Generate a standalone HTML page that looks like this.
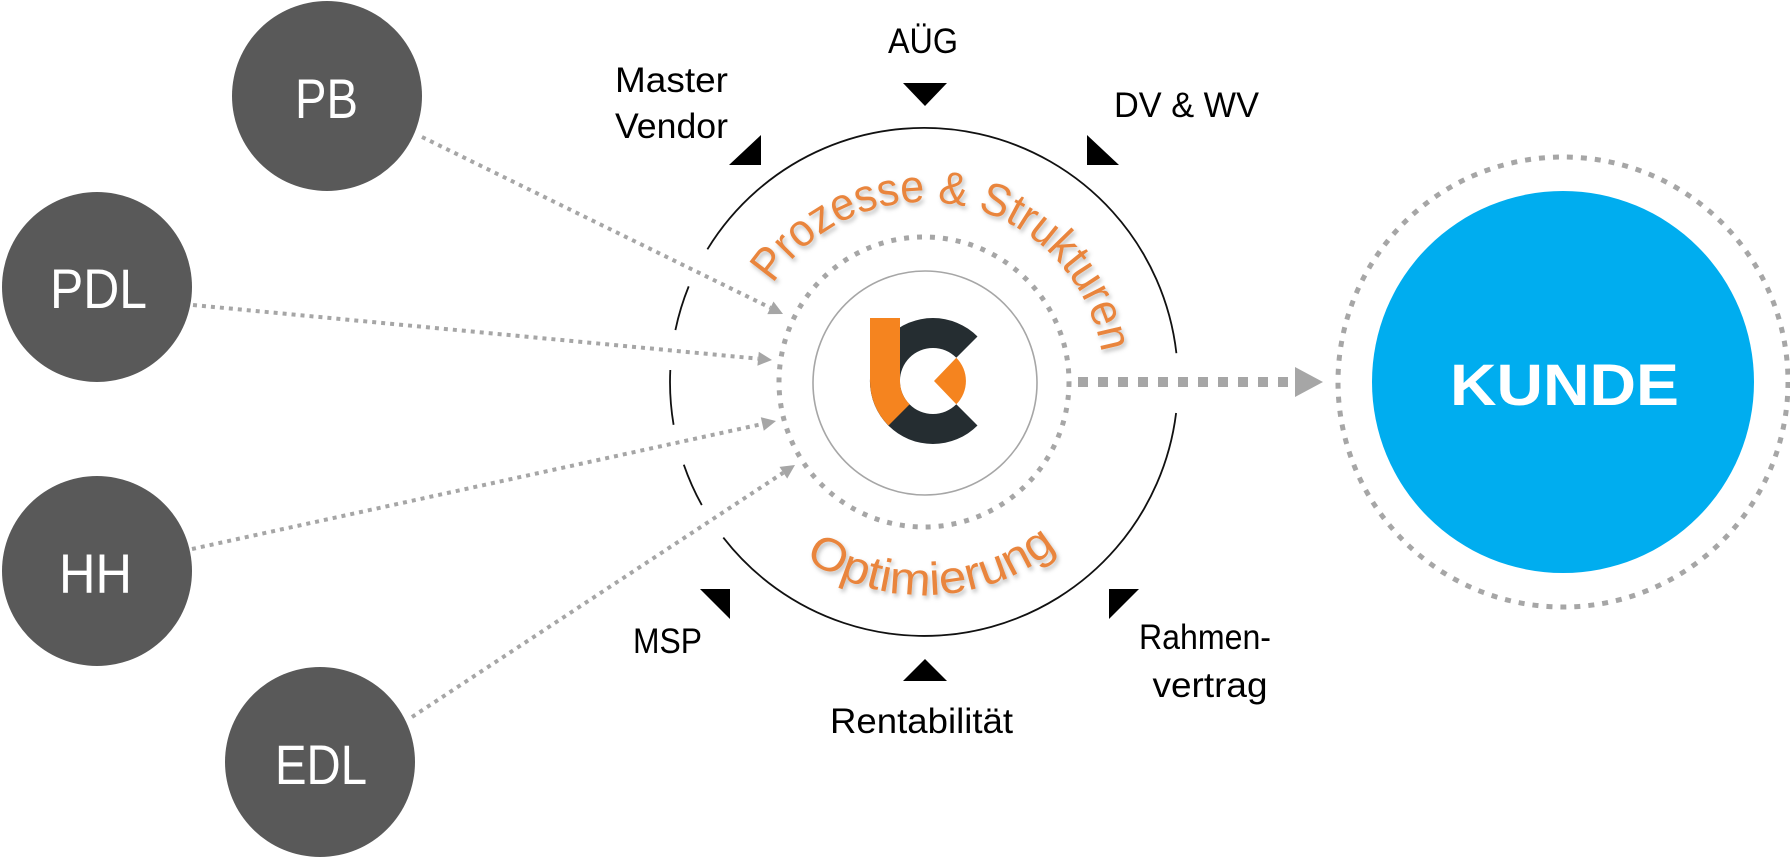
<!DOCTYPE html>
<html>
<head>
<meta charset="utf-8">
<style>
  html, body { margin: 0; padding: 0; background: #ffffff; }
  body { width: 1790px; height: 860px; overflow: hidden; }
  svg { display: block; }
  .lbl { font-family: "Liberation Sans", Arial, sans-serif; font-size: 35px; fill: #000; }
  .node { font-family: "Liberation Sans", Arial, sans-serif; font-size: 56px; fill: #fff; }
  .arc { font-family: "Liberation Sans", Arial, sans-serif; font-size: 46px; fill: #E9853D; }
</style>
</head>
<body>
<svg width="1790" height="860" viewBox="0 0 1790 860" xmlns="http://www.w3.org/2000/svg">
  <defs>
    <filter id="sh" x="-10%" y="-10%" width="120%" height="130%">
      <feDropShadow dx="2" dy="3" stdDeviation="2" flood-color="#000" flood-opacity="0.25"/>
    </filter>
    <path id="topArc" d="M773.0,284.0 A180,180 0 0 1 1101.8,353.8"/>
    <path id="botArc" d="M804.9,558.6 A213,213 0 0 0 1063.7,542.8"/>
  </defs>

  <rect width="1790" height="860" fill="#ffffff"/>

  <!-- dotted connectors -->
  <g stroke="#A6A6A6" stroke-width="4" stroke-dasharray="4 5" fill="none">
    <line x1="422" y1="137" x2="770.4" y2="307.8"/>
    <line x1="193" y1="305" x2="758.1" y2="358.7"/>
    <line x1="192" y1="549" x2="762.3" y2="424.0"/>
    <line x1="412" y1="717" x2="783.3" y2="472.7"/>
  </g>
  <g fill="#A6A6A6">
    <polygon points="783,314 767.3,314.1 773.5,301.5"/>
    <polygon points="772,360 757.4,365.7 758.8,351.7"/>
    <polygon points="776,421 763.8,430.8 760.8,417.2"/>
    <polygon points="795,465 787.2,478.6 779.5,466.9"/>
  </g>

  <!-- left nodes -->
  <g fill="#595959">
    <circle cx="327" cy="96" r="95"/>
    <circle cx="97" cy="287" r="95"/>
    <circle cx="97" cy="571" r="95"/>
    <circle cx="320" cy="762" r="95"/>
  </g>
  <text class="node" x="326.5" y="118" text-anchor="middle" textLength="63" lengthAdjust="spacingAndGlyphs">PB</text>
  <text class="node" x="98.5" y="308" text-anchor="middle" textLength="97" lengthAdjust="spacingAndGlyphs">PDL</text>
  <text class="node" x="95.5" y="593" text-anchor="middle" textLength="73" lengthAdjust="spacingAndGlyphs">HH</text>
  <text class="node" x="321" y="784" text-anchor="middle" textLength="92" lengthAdjust="spacingAndGlyphs">EDL</text>

  <!-- outer black circle with gaps -->
  <g stroke="#111" stroke-width="1.8" fill="none">
    <path d="M1176.1,413.0 A254,254 0 0 1 723.3,537.6"/>
    <path d="M701.8,505.1 A254,254 0 0 1 683.8,464.7"/>
    <path d="M673.6,424.8 A254,254 0 0 1 670.3,370.0"/>
    <path d="M675.4,330.1 A254,254 0 0 1 688.7,286.4"/>
    <path d="M707.4,249.3 A254,254 0 0 1 1176.4,353.2"/>
  </g>

  <!-- dotted ring and thin grey circle -->
  <circle cx="924" cy="382" r="145" fill="none" stroke="#A6A6A6" stroke-width="5" stroke-dasharray="5 8"/>
  <circle cx="925" cy="383" r="112" fill="none" stroke="#A6A6A6" stroke-width="1.6"/>

  <!-- logo -->
  <path d="M977.5,425.5 A63,63 0 1 1 977.5,336.5 L956.3,357.7 A33,33 0 1 0 956.3,404.3 Z" fill="#252D31"/>
  <path d="M870,318 L900,318 L900,381 A33,33 0 0 0 909.7,404.3 L888.5,425.5 A63,63 0 0 1 870,381 Z" fill="#F5841F"/>
  <path d="M934,381 L956.3,357.7 A33,33 0 0 1 956.3,404.3 Z" fill="#F5841F"/>

  <!-- arc texts -->
  <g filter="url(#sh)">
    <text class="arc"><textPath href="#topArc" textLength="432" lengthAdjust="spacingAndGlyphs">Prozesse &amp; Strukturen</textPath></text>
    <text class="arc"><textPath href="#botArc" textLength="270" lengthAdjust="spacingAndGlyphs">Optimierung</textPath></text>
  </g>

  <!-- black triangles -->
  <g fill="#000">
    <polygon points="903,83 947,83 925,106"/>
    <polygon points="761,135 761,165 729,165"/>
    <polygon points="1087,135 1087,165 1119,165"/>
    <polygon points="730,589 700,589 730,619"/>
    <polygon points="1109,589 1139,589 1109,619"/>
    <polygon points="903,681 947,681 925,659"/>
  </g>

  <!-- labels -->
  <text class="lbl" x="923" y="53" text-anchor="middle" textLength="70" lengthAdjust="spacingAndGlyphs">AÜG</text>
  <text class="lbl" x="615" y="92" textLength="113" lengthAdjust="spacingAndGlyphs">Master</text>
  <text class="lbl" x="615" y="138" textLength="113" lengthAdjust="spacingAndGlyphs">Vendor</text>
  <text class="lbl" x="1114" y="117" textLength="145" lengthAdjust="spacingAndGlyphs">DV &amp; WV</text>
  <text class="lbl" x="633" y="653" textLength="69" lengthAdjust="spacingAndGlyphs">MSP</text>
  <text class="lbl" x="921.5" y="733" text-anchor="middle" textLength="183" lengthAdjust="spacingAndGlyphs">Rentabilität</text>
  <text class="lbl" x="1205" y="649" text-anchor="middle" textLength="132" lengthAdjust="spacingAndGlyphs">Rahmen-</text>
  <text class="lbl" x="1210" y="697" text-anchor="middle" textLength="115" lengthAdjust="spacingAndGlyphs">vertrag</text>

  <!-- big arrow to KUNDE -->
  <line x1="1078" y1="382" x2="1292" y2="382" stroke="#A6A6A6" stroke-width="10" stroke-dasharray="10 10"/>
  <polygon points="1295,367 1323,382 1295,397" fill="#A6A6A6"/>

  <!-- KUNDE -->
  <circle cx="1563" cy="382" r="225" fill="none" stroke="#A6A6A6" stroke-width="5" stroke-dasharray="6 8"/>
  <circle cx="1563" cy="382" r="191" fill="#00ADEF"/>
  <text x="1564.5" y="405" text-anchor="middle" font-family="Liberation Sans, Arial, sans-serif" font-weight="bold" font-size="58" fill="#fff" textLength="229" lengthAdjust="spacingAndGlyphs">KUNDE</text>
</svg>
</body>
</html>
